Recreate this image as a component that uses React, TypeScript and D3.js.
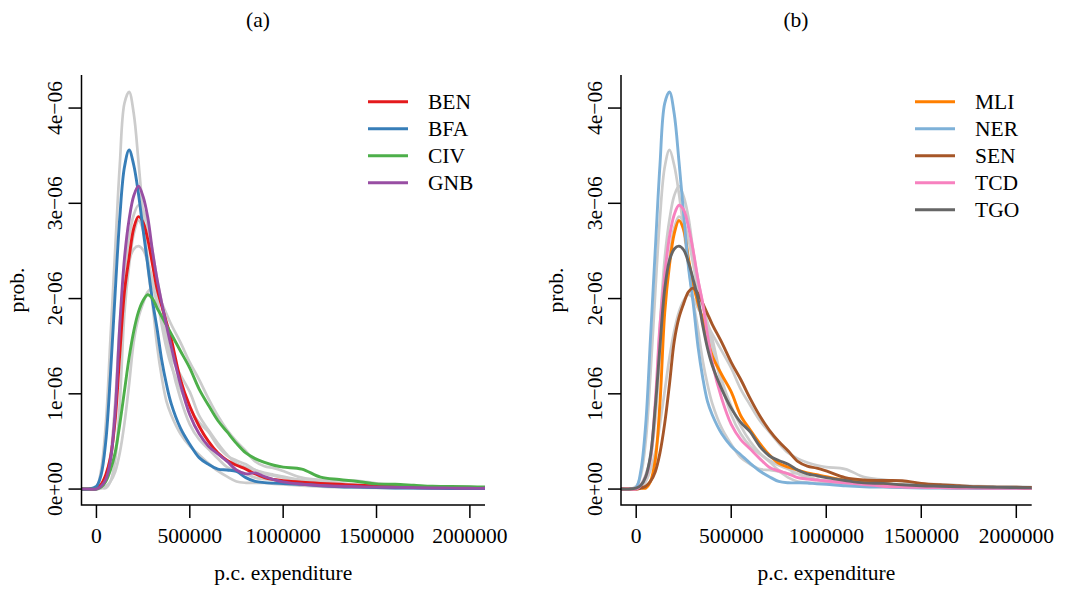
import * as d3 from 'd3';

// p.c. expenditure grid (x) and density values (in units of 1e-06)
const xGrid = [
  -80000, -40000, 0, 25000, 50000, 75000, 100000, 125000, 150000, 175000,
  200000, 225000, 250000, 275000, 300000, 325000, 350000, 375000, 400000, 450000,
  500000, 550000, 600000, 650000, 700000, 750000, 800000, 850000, 900000, 950000,
  1000000, 1100000, 1200000, 1300000, 1400000, 1500000, 1600000, 1700000, 1800000, 1900000,
  2000000, 2100000,
];

const BEN = [0, 0, 0.01, 0.05, 0.15, 0.33, 0.72, 1.42, 2.07, 2.43, 2.74, 2.86, 2.8, 2.62, 2.36, 2.1, 1.92, 1.75, 1.58, 1.15, 0.87, 0.66, 0.5, 0.38, 0.3, 0.25, 0.21, 0.16, 0.12, 0.1, 0.088, 0.072, 0.06, 0.05, 0.04, 0.032, 0.025, 0.02, 0.015, 0.012, 0.01, 0.01];
const BFA = [0, 0, 0.03, 0.15, 0.5, 1.2, 2.05, 2.85, 3.38, 3.56, 3.4, 3.1, 2.72, 2.35, 1.98, 1.68, 1.35, 1.1, 0.9, 0.64, 0.47, 0.33, 0.26, 0.21, 0.2, 0.185, 0.12, 0.08, 0.068, 0.062, 0.058, 0.05, 0.035, 0.025, 0.02, 0.015, 0.012, 0.01, 0.008, 0.006, 0.005, 0.005];
const CIV = [0, 0, 0, 0.02, 0.08, 0.2, 0.38, 0.68, 1.03, 1.38, 1.66, 1.86, 1.98, 2.04, 2.0, 1.9, 1.81, 1.72, 1.63, 1.45, 1.27, 1.05, 0.88, 0.72, 0.6, 0.48, 0.38, 0.32, 0.28, 0.25, 0.23, 0.21, 0.125, 0.1, 0.08, 0.055, 0.05, 0.04, 0.03, 0.028, 0.025, 0.02];
const GNB = [0, 0, 0, 0.03, 0.1, 0.3, 0.8, 1.72, 2.42, 2.83, 3.08, 3.18, 3.07, 2.85, 2.5, 2.2, 1.95, 1.72, 1.5, 1.1, 0.78, 0.58, 0.45, 0.37, 0.29, 0.2, 0.16, 0.17, 0.13, 0.1, 0.075, 0.05, 0.038, 0.03, 0.025, 0.02, 0.018, 0.015, 0.012, 0.01, 0.008, 0.008];
const MLI = [0, 0, 0, 0.01, 0.01, 0.08, 0.3, 0.9, 1.85, 2.35, 2.68, 2.82, 2.72, 2.42, 2.15, 1.95, 1.78, 1.58, 1.4, 1.2, 1.02, 0.77, 0.62, 0.48, 0.36, 0.27, 0.23, 0.2, 0.17, 0.15, 0.13, 0.095, 0.08, 0.06, 0.04, 0.03, 0.025, 0.02, 0.015, 0.012, 0.01, 0.01];
const NER = [0, 0, 0.02, 0.2, 0.68, 1.58, 2.5, 3.4, 4.05, 4.17, 3.94, 3.44, 2.88, 2.33, 1.95, 1.5, 1.17, 0.92, 0.78, 0.58, 0.45, 0.36, 0.27, 0.19, 0.13, 0.08, 0.066, 0.066, 0.064, 0.055, 0.05, 0.035, 0.025, 0.02, 0.015, 0.012, 0.01, 0.008, 0.006, 0.005, 0.005, 0.005];
const SEN = [0, 0, 0, 0.01, 0.03, 0.08, 0.18, 0.38, 0.69, 1.1, 1.55, 1.8, 1.95, 2.07, 2.11, 2.05, 1.95, 1.84, 1.73, 1.54, 1.33, 1.15, 0.95, 0.77, 0.62, 0.5, 0.4, 0.29, 0.24, 0.22, 0.19, 0.12, 0.095, 0.09, 0.087, 0.06, 0.045, 0.035, 0.025, 0.02, 0.02, 0.015];
const TCD = [0, 0, 0, 0.04, 0.13, 0.33, 0.9, 1.72, 2.25, 2.65, 2.88, 2.98, 2.93, 2.75, 2.5, 2.2, 1.95, 1.62, 1.33, 0.95, 0.68, 0.52, 0.42, 0.32, 0.23, 0.19, 0.16, 0.12, 0.105, 0.095, 0.085, 0.065, 0.048, 0.03, 0.022, 0.018, 0.015, 0.012, 0.01, 0.008, 0.007, 0.006];
const TGO = [0, 0, 0.01, 0.04, 0.13, 0.35, 0.85, 1.5, 2.1, 2.4, 2.52, 2.55, 2.51, 2.38, 2.2, 2.0, 1.72, 1.48, 1.3, 1.05, 0.85, 0.7, 0.6, 0.45, 0.35, 0.3, 0.26, 0.2, 0.16, 0.14, 0.12, 0.09, 0.065, 0.06, 0.045, 0.035, 0.03, 0.025, 0.02, 0.018, 0.015, 0.012];

const series: Record<string, number[]> = { BEN, BFA, CIV, GNB, MLI, NER, SEN, TCD, TGO };

const colors: Record<string, string> = {
  BEN: '#E41A1C',
  BFA: '#377EB8',
  CIV: '#4DAF4A',
  GNB: '#984EA3',
  MLI: '#FF7F00',
  NER: '#7EB1D8',
  SEN: '#A65628',
  TCD: '#F781BF',
  TGO: '#666666',
};

const panelA = ['BEN', 'BFA', 'CIV', 'GNB'];
const panelB = ['MLI', 'NER', 'SEN', 'TCD', 'TGO'];

const xTicks = [0, 500000, 1000000, 1500000, 2000000];
const xTickLabels = ['0', '500000', '1000000', '1500000', '2000000'];
const yTicks = [0, 1, 2, 3, 4];
const yTickLabels = ['0e+00', '1e\u221206', '2e\u221206', '3e\u221206', '4e\u221206'];

const FONT = "'Liberation Serif', 'DejaVu Serif', 'Times New Roman', serif";
const FS = 21.5;
const TOP = 75;
const BOTTOM = 505;
const GREY = '#CCCCCC';

type PanelProps = {
  id: string;
  title: string;
  titleX: number;
  left: number;
  right: number;
  legendX: number;
  shown: string[];
  others: string[];
};

function Panel({ id, title, titleX, left, right, legendX, shown, others }: PanelProps) {
  const x = d3.scaleLinear().domain([-80000, 2081000]).range([left, right]);
  const y = d3.scaleLinear().domain([-0.1672, 4.347]).range([BOTTOM, TOP]);
  const line = d3
    .line<number>()
    .x((_, i) => x(xGrid[i]))
    .y((d) => y(d))
    .curve(d3.curveCatmullRom.alpha(0.5));

  return (
    <g>
      <defs>
        <clipPath id={`clip-${id}`}>
          <rect x={left} y={TOP} width={right - left} height={BOTTOM - TOP} />
        </clipPath>
      </defs>
      <text x={titleX} y={27} textAnchor="middle" fontSize={FS}>
        {title}
      </text>

      <g clipPath={`url(#clip-${id})`} fill="none" strokeLinejoin="round" strokeLinecap="round">
        {others.map((c) => (
          <path key={c} d={line(series[c]) || ''} stroke={GREY} strokeWidth={2.7} />
        ))}
        {shown.map((c) => (
          <path key={c} d={line(series[c]) || ''} stroke={colors[c]} strokeWidth={2.9} />
        ))}
      </g>

      {/* L-shaped box */}
      <path
        d={`M${left},${TOP}V${BOTTOM}H${right}`}
        fill="none"
        stroke="#000"
        strokeWidth={1.5}
      />

      {xTicks.map((t, i) => (
        <g key={t}>
          <line x1={x(t)} x2={x(t)} y1={BOTTOM} y2={BOTTOM + 13} stroke="#000" strokeWidth={1.5} />
          <text x={x(t)} y={543} textAnchor="middle" fontSize={FS}>
            {xTickLabels[i]}
          </text>
        </g>
      ))}
      {yTicks.map((t, i) => (
        <g key={t}>
          <line x1={left - 13} x2={left} y1={y(t)} y2={y(t)} stroke="#000" strokeWidth={1.5} />
          <text
            transform={`translate(${left - 19.5},${y(t)}) rotate(-90)`}
            textAnchor="middle"
            fontSize={FS}
          >
            {yTickLabels[i]}
          </text>
        </g>
      ))}

      <text x={(left + right) / 2} y={580} textAnchor="middle" fontSize={FS}>
        p.c. expenditure
      </text>
      <text
        transform={`translate(${left - 58},${(TOP + BOTTOM) / 2}) rotate(-90)`}
        textAnchor="middle"
        fontSize={FS}
      >
        prob.
      </text>

      {shown.map((c, i) => {
        const ly = 101.7 + i * 27;
        return (
          <g key={c}>
            <line x1={legendX} x2={legendX + 40} y1={ly} y2={ly} stroke={colors[c]} strokeWidth={2.9} />
            <text x={legendX + 60} y={ly + 7.6} fontSize={FS}>
              {c}
            </text>
          </g>
        );
      })}
    </g>
  );
}

export default function App() {
  return (
    <svg
      width={1070}
      height={591}
      style={{ position: 'absolute', left: 0, top: 0, background: '#fff', fontFamily: FONT }}
    >
      <rect width={1070} height={591} fill="#fff" />
      <Panel id="a" title="(a)" titleX={258} left={81.5} right={485} legendX={368} shown={panelA} others={panelB} />
      <Panel id="b" title="(b)" titleX={796} left={621} right={1031.7} legendX={915} shown={panelB} others={panelA} />
    </svg>
  );
}
